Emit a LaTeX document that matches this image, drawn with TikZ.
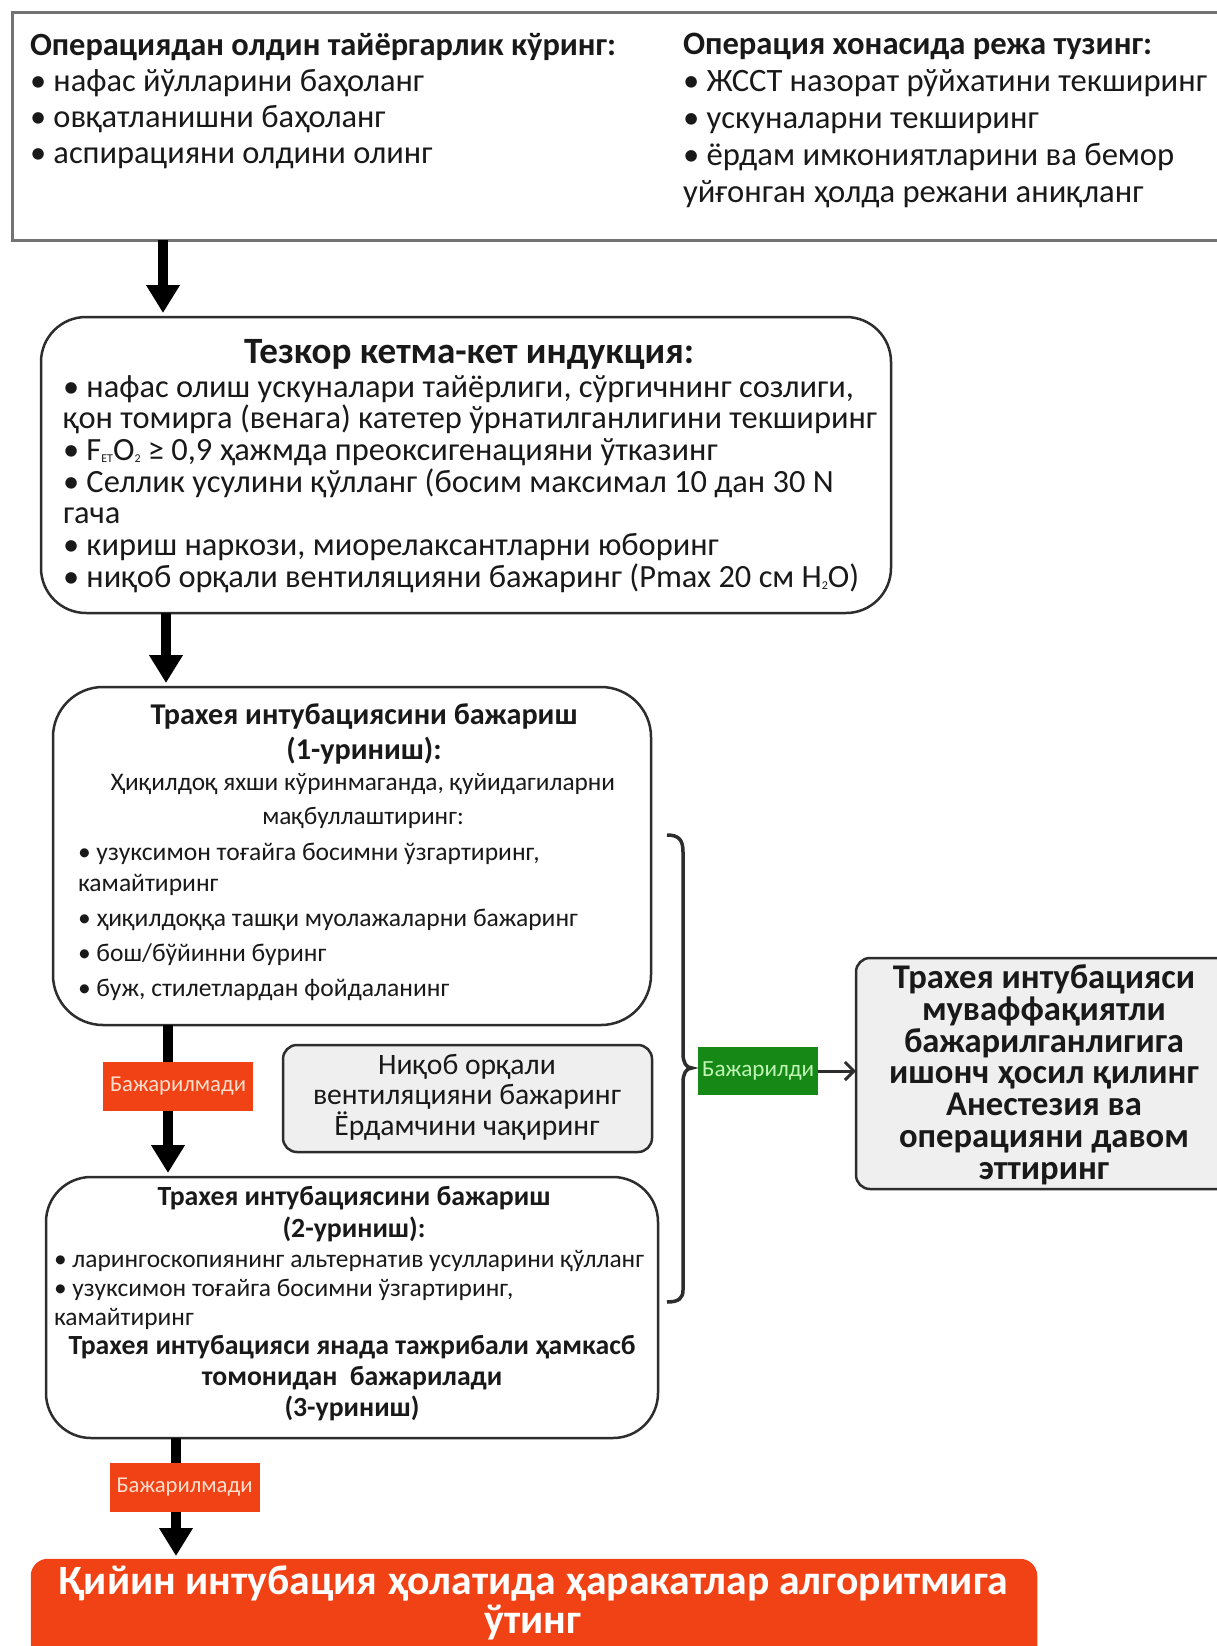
\documentclass[tikz,border=0pt]{standalone}
\usepackage{fontspec}
\setmainfont{Carlito}
\usetikzlibrary{arrows.meta}
\definecolor{bordc}{RGB}{45,45,45}
\definecolor{topbord}{RGB}{115,115,115}
\definecolor{grayf}{RGB}{239,239,239}
\definecolor{redc}{RGB}{240,66,20}
\definecolor{greenc}{RGB}{22,136,22}
\definecolor{redtxt}{RGB}{255,222,205}
\definecolor{greentxt}{RGB}{190,245,180}
\definecolor{txtc}{RGB}{25,25,25}
\newlength\mytmpw
\newcommand\myfit[4]{\settowidth\mytmpw{\fontsize{10}{12}\selectfont#2#3}\pgfmathparse{10*#4/\mytmpw}\global\let#1\pgfmathresult}
\newcommand\mysz[2]{\fontsize{#1}{#2}\selectfont\lineskiplimit=-100pt\relax}
\newcommand\mysubs[1]{\raisebox{-2pt}{\fontsize{12}{12}\selectfont#1}}
\begin{document}
\myfit\fszA{\bfseries}{Операциядан олдин тайёргарлик кўринг:}{586}%
\myfit\fszB{}{• ЖССТ назорат рўйхатини текширинг}{524}%
\myfit\fszCt{\bfseries}{Тезкор кетма-кет индукция:}{450}%
\myfit\fszC{}{қон томирга (венага) катетер ўрнатилганлигини текширинг}{814}%
\myfit\fszDt{\bfseries}{Трахея интубациясини бажариш}{427}%
\myfit\fszDs{}{Ҳиқилдоқ яхши кўринмаганда, қуйидагиларни}{504}%
\myfit\fszDb{}{• ҳиқилдоққа ташқи муолажаларни бажаринг}{500}%
\myfit\fszEt{\bfseries}{Трахея интубациясини бажариш}{393}%
\myfit\fszEb{}{• ларингоскопиянинг альтернатив усулларини қўлланг}{590}%
\myfit\fszEc{\bfseries}{Трахея интубацияси янада тажрибали ҳамкасб}{567}%
\myfit\fszF{}{вентиляцияни бажаринг}{308}%
\myfit\fszG{\bfseries}{бажарилганлигига}{280}%
\myfit\fszH{\bfseries}{Қийин интубация ҳолатида ҳаракатлар алгоритмига}{950}%
\myfit\fszL{}{Бажарилмади}{136}%
\myfit\fszLg{}{Бажарилди}{112}%
\begin{tikzpicture}[x=1pt,y=-1pt,
  box/.style={draw=bordc, line width=2.5pt, inner sep=0pt, outer sep=0pt, anchor=north west},
  bigr/.style={box, rounded corners=45pt},
  smallr/.style={box, rounded corners=14pt, fill=grayf},
  txt/.style={inner sep=0pt, outer sep=0pt, align=left, anchor=north west, text=txtc},
  ctxt/.style={inner sep=0pt, outer sep=0pt, align=center, anchor=north, text=txtc},
  arr/.style={line width=10pt, -{Triangle[width=32pt,length=28pt]}, shorten >=4pt},
  lblred/.style={fill=redc, text=redtxt, inner sep=0pt, minimum width=150pt, minimum height=49pt},
  lblgreen/.style={fill=greenc, text=greentxt, inner sep=0pt, minimum width=120pt, minimum height=48pt}]
\path[use as bounding box, fill=white] (0,0) rectangle (1217,1646);

% boxes
\node[box, draw=topbord, line width=3pt, minimum width=1228pt, minimum height=227pt] (b1) at (12,13) {};
\node[bigr, minimum width=850pt, minimum height=296pt] (b2) at (41,317) {};
\node[bigr, rounded corners=50pt, minimum width=598pt, minimum height=338pt] (b3) at (53,687) {};
\node[smallr, minimum width=369pt, minimum height=107pt] (gb) at (283,1045) {};
\node[bigr, minimum width=612pt, minimum height=261pt] (b4) at (46,1177) {};
\node[smallr, minimum width=384pt, minimum height=231pt] (rb) at (856,958) {};
\node[box, draw=redc, fill=redc, rounded corners=16pt, minimum width=1004pt, minimum height=140pt] (fb) at (32,1560) {};

% texts
\node[txt, font=\mysz{\fszA}{35.7}] (tA) at (30,31)
  {\strut\textbf{Операциядан олдин тайёргарлик кўринг:}\\• нафас йўлларини баҳоланг\\• овқатланишни баҳоланг\\• аспирацияни олдини олинг};
\node[txt, font=\mysz{\fszB}{37}] (tB) at (683,29)
  {\strut\textbf{Операция хонасида режа тузинг:}\\• ЖССТ назорат рўйхатини текширинг\\• ускуналарни текширинг\\• ёрдам имкониятларини ва бемор\\уйғонган ҳолда режани аниқланг};
\node[ctxt, font=\mysz{\fszCt}{40}\bfseries] (tCt) at (469,335) {\strut Тезкор кетма-кет индукция:};
\node[txt, font=\mysz{\fszC}{31.7}] (tC) at (63,375)
  {\strut• нафас олиш ускуналари тайёрлиги, сўргичнинг созлиги,\\қон томирга (венага) катетер ўрнатилганлигини текширинг\\• F\mysubs{ET}O\mysubs{2} ≥ 0,9 ҳажмда преоксигенацияни ўтказинг\\• Селлик усулини қўлланг (босим максимал 10 дан 30 N\\гача\\• кириш наркози, миорелаксантларни юборинг\\• ниқоб орқали вентиляцияни бажаринг (Pmax 20 см H\mysubs{2}O)};
\node[ctxt, font=\mysz{\fszDt}{35}\bfseries] (tDt) at (364,700) {\strut Трахея интубациясини бажариш\\(1-уриниш):};
\node[ctxt, font=\mysz{\fszDs}{34}] (tDs) at (363,767) {\strut Ҳиқилдоқ яхши кўринмаганда, қуйидагиларни\\мақбуллаштиринг:};
\node[txt, font=\mysz{\fszDb}{35}] (tDb) at (78,836)
  {\strut• узуксимон тоғайга босимни ўзгартиринг,\\[-4pt]камайтиринг\\• ҳиқилдоққа ташқи муолажаларни бажаринг\\• бош/бўйинни буринг\\• буж, стилетлардан фойдаланинг};
\node[ctxt, font=\mysz{\fszEt}{32}\bfseries] (tEt) at (354,1183) {\strut Трахея интубациясини бажариш\\(2-уриниш):};
\node[txt, font=\mysz{\fszEb}{29}] (tEb) at (54,1247)
  {\strut• ларингоскопиянинг альтернатив усулларини қўлланг\\• узуксимон тоғайга босимни ўзгартиринг,\\камайтиринг};
\node[ctxt, font=\mysz{\fszEc}{31}\bfseries] (tEc) at (352,1333) {\strut Трахея интубацияси янада тажрибали ҳамкасб\\томонидан\ \ бажарилади\\(3-уриниш)};
\node[ctxt, font=\mysz{\fszF}{30.5}] (tF) at (467,1053) {\strut Ниқоб орқали\\вентиляцияни бажаринг\\Ёрдамчини чақиринг};
\node[ctxt, font=\mysz{\fszG}{31.7}\bfseries] (tG) at (1044,965) {\strut Трахея интубацияси\\муваффақиятли\\бажарилганлигига\\ишонч ҳосил қилинг\\Анестезия ва\\операцияни давом\\эттиринг};
\node[ctxt, text=white, font=\mysz{\fszH}{38.5}\bfseries] (tH) at (533,1566) {\strut Қийин интубация ҳолатида ҳаракатлар алгоритмига\\ўтинг};

% arrows
\coordinate (x1) at (163,0);
\coordinate (x2) at (166,0);
\coordinate (x3) at (168,0);
\coordinate (x4) at (176,0);
\draw[arr] (b1.south -| x1) -- (b2.north -| x1);
\draw[arr] (b2.south -| x2) -- (b3.north -| x2);
\draw[arr] (b3.south -| x3) -- (b4.north -| x3);
\draw[arr] (b4.south -| x4) -- (fb.north -| x4);

% labels
\node[lblred, font=\mysz{\fszL}{20}] (l1) at (178,1086.5) {Бажарилмади};
\node[lblred, font=\mysz{\fszL}{20}] (l2) at (184.5,1487) {Бажарилмади};
\coordinate (btip) at (692,1068);
\node[lblgreen, anchor=west, font=\mysz{\fszLg}{20}] (gl) at (698,1071) {Бажарилди};

% brace
\draw[line width=3.5pt, draw=bordc] (667,835) .. controls (679,835) and (683,840) .. (683,852) -- (683,1054)
  .. controls (683,1062) and (686,1068) .. (btip) .. controls (686,1068) and (683,1074) .. (683,1082)
  -- (683,1290) .. controls (683,1298) and (679,1302) .. (667,1302);

\draw[line width=3pt, draw=bordc, -{Straight Barb[length=9pt,width=18pt]}] (gl.east) -- (gl.east -| rb.west);
\end{tikzpicture}
\end{document}
